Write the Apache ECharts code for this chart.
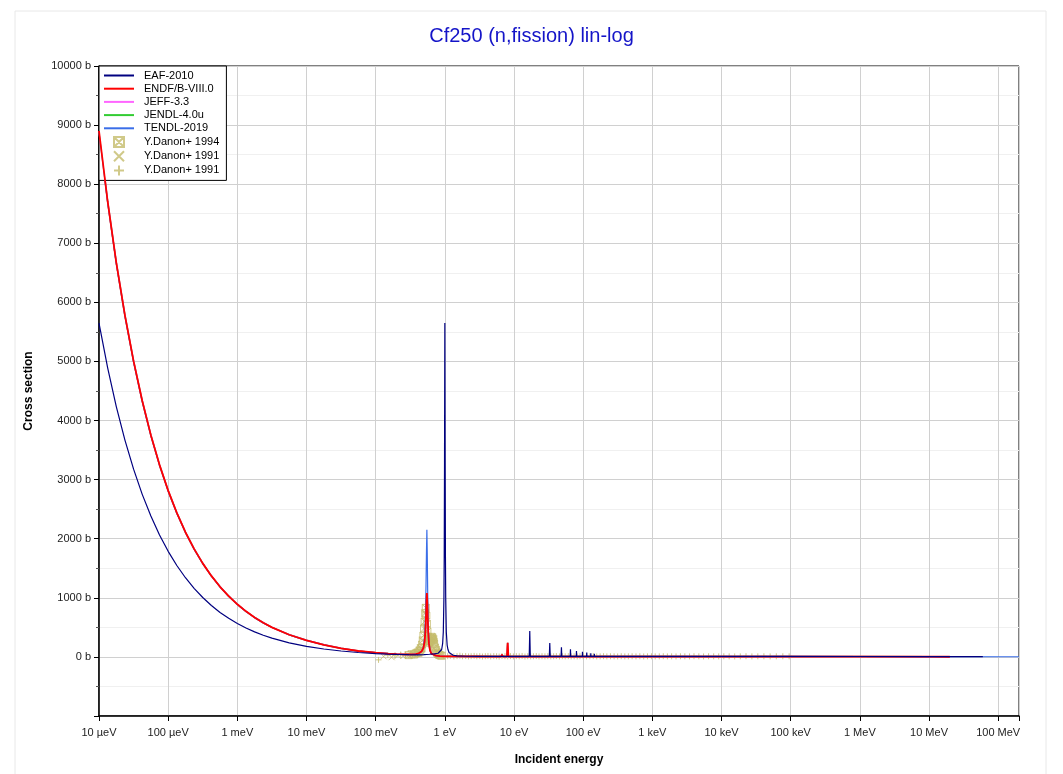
<!DOCTYPE html>
<html>
<head>
<meta charset="utf-8">
<script src="https://cdn.jsdelivr.net/npm/echarts/dist/echarts.min.js"></script>
<style>
  html, body { margin: 0; padding: 0; background: #fff; }
  #chart { width: 1063px; height: 774px; }
</style>
</head>
<body>
<div id="chart"></div>
<script>
// ---------- tick labels ----------
const xTickLabels = ['10 µeV','100 µeV','1 meV','10 meV','100 meV','1 eV','10 eV','100 eV','1 keV','10 keV','100 keV','1 MeV','10 MeV','100 MeV'];
const xTickExponents = [-5,-4,-3,-2,-1,0,1,2,3,4,5,6,7,8];

// ---------- series values (energy in eV, cross section in b) ----------
const eafE = [1e-5, 1.334e-5, 1.778e-5, 2.371e-5, 3.162e-5, 4.217e-5, 5.623e-5, 7.499e-5, 1e-4, 1.334e-4, 1.778e-4, 2.371e-4, 3.162e-4, 4.217e-4, 5.623e-4, 7.499e-4, 1e-3, 1.334e-3, 1.778e-3, 2.371e-3, 3.162e-3,
  5.623e-3, 0.01, 0.0178, 0.0316, 0.0562, 0.1,
  0.15, 0.2, 0.3, 0.4, 0.5, 0.6, 0.7, 0.8, 0.85, 0.9,
  0.93, 0.95, 0.97, 0.98, 0.99, 1.0, 1.01, 1.02, 1.03, 1.05,
  1.08, 1.11, 1.15, 1.22, 1.32, 1.5, 2, 3, 5, 10,
  16.6, 16.9, 17.2, 32.4, 32.9, 33.4, 47.9, 48.5, 49.1, 64.9, 65.5, 66.1, 79.4, 80, 80.6,
  97.1, 97.7, 98.3, 112, 112.7, 113.4, 128.4, 129, 129.6, 144.4, 145, 145.6,
  1e3, 1e4, 1e5, 1e6, 1e7, 6e7];
const eafS = [5650, 4893, 4237, 3669, 3177, 2751, 2383, 2063, 1787, 1547, 1340, 1160, 1005, 870, 753, 653, 565, 489, 424, 367, 318,
  238, 179, 134, 100, 75, 57,
  48, 43, 38, 36, 38, 45, 52, 62, 80, 125,
  230, 420, 1000, 1700, 3300, 5650, 3300, 1700, 1000, 420,
  200, 125, 75, 45, 28, 16, 11, 9, 8, 8,
  8, 440, 8, 8, 237, 8, 8, 164, 8, 8, 130, 8, 8, 100, 8,
  8, 85, 8, 8, 73, 8, 8, 62, 8, 8, 55, 8,
  8, 8, 8, 7, 6, 5];

const endfE = [1e-5, 1.334e-5, 1.778e-5, 2.371e-5, 3.162e-5, 4.217e-5, 5.623e-5, 7.499e-5, 1e-4, 1.334e-4, 1.778e-4, 2.371e-4, 3.162e-4, 4.217e-4, 5.623e-4, 7.499e-4, 1e-3, 1.334e-3, 1.778e-3, 2.371e-3, 3.162e-3,
  5.623e-3, 0.01, 0.0178, 0.0316, 0.0562, 0.1,
  0.15, 0.2, 0.27, 0.33, 0.38, 0.42, 0.46, 0.49, 0.51, 0.525, 0.535, 0.543, 0.55, 0.557, 0.565, 0.575, 0.59, 0.61, 0.64, 0.68, 0.75, 0.85, 1.0,
  1.5, 3, 5, 6.5, 6.7, 6.9, 7.9, 8.1, 8.3, 12, 30, 100, 1e3, 1e4, 1e5, 1e6, 1e7, 2e7];
const endfS = [8900, 7707, 6674, 5780, 5005, 4334, 3753, 3250, 2814, 2437, 2110, 1828, 1583, 1371, 1187, 1028, 890, 771, 667, 578, 500,
  375, 281, 205, 145, 100, 72,
  56, 48, 42, 42, 48, 60, 90, 150, 260, 450, 700, 950, 1080, 950, 680, 420, 220, 110, 55, 32, 20, 14, 10,
  8, 7, 6, 6, 40, 6, 6, 240, 6, 6, 6, 6, 6, 6, 6, 5, 4, 3];

// JEFF-3.3 and JENDL-4.0u coincide with ENDF/B-VIII.0 at this scale (hidden beneath it)
const jeffE = endfE, jeffS = endfS;
const jendlE = endfE, jendlS = endfS;

const tendlE = [1e-5, 1.334e-5, 1.778e-5, 2.371e-5, 3.162e-5, 4.217e-5, 5.623e-5, 7.499e-5, 1e-4, 1.334e-4, 1.778e-4, 2.371e-4, 3.162e-4, 4.217e-4, 5.623e-4, 7.499e-4, 1e-3, 1.334e-3, 1.778e-3, 2.371e-3, 3.162e-3,
  5.623e-3, 0.01, 0.0178, 0.0316, 0.0562, 0.1,
  0.15, 0.2, 0.27, 0.33, 0.38, 0.42, 0.46, 0.49, 0.51, 0.525, 0.535, 0.543, 0.55, 0.557, 0.565, 0.575, 0.59, 0.61, 0.64, 0.68, 0.75, 0.85, 1.0,
  1.5, 3, 10, 100, 1e3, 1e4, 1e5, 1e6, 1e7, 1e8, 2e8];
const tendlS = [8880, 7690, 6655, 5765, 4990, 4322, 3740, 3240, 2805, 2430, 2105, 1823, 1578, 1367, 1185, 1026, 888, 769, 665, 576, 499,
  374, 280, 204, 144, 99, 71,
  55, 47, 41, 41, 46, 58, 90, 170, 340, 700, 1250, 1800, 2150, 1750, 1100, 550, 250, 115, 55, 32, 20, 14, 10,
  8, 7, 6, 6, 6, 6, 6, 5, 4, 3, 3];

// Y.Danon+ 1994 (boxed x)
const d94E = [0.30, 0.33, 0.36, 0.38, 0.40, 0.415, 0.43, 0.44, 0.45, 0.46, 0.47, 0.48, 0.49, 0.50, 0.51,
  0.52, 0.53, 0.54, 0.55, 0.56, 0.57, 0.58, 0.59, 0.60, 0.61, 0.62, 0.63, 0.64, 0.65, 0.66,
  0.67, 0.68, 0.69, 0.70, 0.72, 0.74, 0.76, 0.78, 0.80, 0.83, 0.86, 0.90];
const d94S = [30, 45, 40, 60, 75, 70, 110, 95, 150, 140, 210, 280, 360, 480, 600,
  740, 830, 700, 560, 430, 340, 270, 240, 260, 290, 320, 300, 340, 310, 330,
  280, 300, 250, 220, 160, 120, 90, 65, 50, 35, 25, 20];

// Y.Danon+ 1991 (x)
const d91xE = [0.13, 0.17, 0.21, 0.25, 0.29, 0.35];
const d91xS = [10, -5, 25, 15, 35, 50];

// Y.Danon+ 1991 (+)
const d91pE = [0.11, 0.15, 0.19, 0.23, 0.27, 0.32, 0.37,
  1.1, 1.2, 1.35, 1.5, 1.65, 1.8, 2.0, 2.2, 2.4, 2.65,
  2.9, 3.2, 3.5, 3.85, 4.2, 4.6, 5.1, 5.6, 6.1, 6.7,
  7.4, 8.1, 8.9, 9.8, 10.8, 11.9, 13.1, 14.4, 15.8, 17.4,
  19.1, 21, 23, 25.4, 28, 30.8, 34, 37.4, 41, 45.5,
  50, 55, 61, 67, 74, 82, 90, 100, 112, 125,
  140, 157, 176, 197, 220, 248, 280, 315, 355, 400,
  450, 510, 580, 660, 750, 850, 970, 1100, 1260, 1440,
  1650, 1900, 2200, 2550, 2950, 3450, 4000, 4700, 5500, 6500,
  7700, 9100, 10800, 12900, 15500, 18700, 22600, 27500, 33500, 41000,
  50500, 62000, 77000, 95000];
const d91pS = [-50, 30, 20, 40, 35, 55, 70,
  12, 18, 9, 14, 20, 11, 15, 8, 13, 17,
  10, 14, 7, 12, 16, 9, 13, 11, 6, 15,
  12, 9, 14, 8, 13, 10, 16, 7, 12, 9,
  11, 14, 8, 12, 10, 13, 9, 11, 14, 8,
  12, 10, 13, 9, 11, 8, 12, 10, 9, 11,
  13, 8, 10, 12, 9, 11, 10, 8, 12, 9,
  10, 11, 9, 12, 8, 10, 11, 9, 10, 12,
  9, 10, 8, 11, 10, 9, 12, 10, 8, 11,
  10, 9, 11, 10, 8, 10, 12, 9, 10, 11,
  9, 10, 11, 10];

// ---------- build ----------
function pairs(E, S) { return E.map((e, i) => [Math.log10(e), S[i]]); }

const FONT = "'Liberation Sans', Arial, Helvetica, sans-serif";
const OLIVE = '#c4bc6c';

const boxX = 'path://M0,0 L10,0 L10,10 L0,10 Z M0,0 L10,10 M10,0 L0,10';
const crossX = 'path://M0,0 L10,10 M10,0 L0,10';
const plus = 'path://M5,0 L5,10 M0,5 L10,5';

function lineSeries(name, E, S, color, width, z) {
  return {
    name, type: 'line', data: pairs(E, S), symbol: 'none', showSymbol: false,
    lineStyle: { color, width }, itemStyle: { color }, z, clip: true, animation: false
  };
}
function scatterSeries(name, E, S, symbol, size) {
  return {
    name, type: 'scatter', data: pairs(E, S), symbol, symbolSize: size, symbolKeepAspect: true,
    itemStyle: { color: 'rgba(0,0,0,0)', borderColor: OLIVE, borderWidth: 1 },
    z: 1, clip: true, animation: false
  };
}
const hideSym = { opacity: 0 };

const chart = echarts.init(document.getElementById('chart'), null, { renderer: 'canvas' });
chart.setOption({
  animation: false,
  backgroundColor: '#ffffff',
  textStyle: { fontFamily: FONT },
  graphic: [{
    type: 'rect', silent: true, z: -1,
    shape: { x: 15, y: 11, width: 1031, height: 800 },
    style: { fill: 'none', stroke: '#e8e8e8', lineWidth: 1 }
  }],
  title: {
    text: 'Cf250 (n,fission) lin-log', left: 'center', top: 26, padding: 0,
    textStyle: { color: '#1414c8', fontSize: 20, fontWeight: 'normal', fontFamily: FONT }
  },
  grid: { left: 99, right: 44, top: 66, bottom: 58, show: true, borderColor: '#000', borderWidth: 1, backgroundColor: 'transparent' },
  legend: {
    orient: 'vertical', left: 99, top: 66,
    itemWidth: 30, itemHeight: 10, itemGap: 2.2,
    padding: [4, 4, 4, 4],
    backgroundColor: '#ffffff', borderColor: '#000', borderWidth: 1,
    textStyle: { fontSize: 11, lineHeight: 11, color: '#000', fontFamily: FONT, padding: [0, 0, 0, 5] },
    lineStyle: { width: 2 },
    data: [
      { name: 'EAF-2010', itemStyle: hideSym },
      { name: 'ENDF/B-VIII.0', itemStyle: hideSym },
      { name: 'JEFF-3.3', itemStyle: hideSym },
      { name: 'JENDL-4.0u', itemStyle: hideSym },
      { name: 'TENDL-2019', itemStyle: hideSym },
      'Y.Danon+ 1994', 'Y.Danon+ 1991', 'Y.Danon+ 1991 '
    ]
  },
  xAxis: {
    type: 'value', min: -5, max: Math.log10(2e8), interval: 1,
    name: 'Incident energy', nameLocation: 'middle', nameGap: 38,
    nameTextStyle: { fontSize: 12, fontWeight: 'bold', color: '#000', fontFamily: FONT },
    axisLine: { onZero: false, lineStyle: { color: '#000', width: 1.5 } },
    axisTick: { show: true, length: 5, lineStyle: { color: '#000' } },
    axisLabel: {
      fontSize: 11, color: '#222', margin: 11, fontFamily: FONT, showMaxLabel: true,
      formatter: v => { const i = xTickExponents.indexOf(Math.round(v * 1000) / 1000); return i >= 0 ? xTickLabels[i] : ''; }
    },
    splitLine: { show: true, lineStyle: { color: '#d0d0d0', width: 1 } }
  },
  yAxis: {
    type: 'value', min: -1000, max: 10000, interval: 1000,
    name: 'Cross section', nameLocation: 'middle', nameGap: 64, nameRotate: 90,
    nameTextStyle: { fontSize: 12, fontWeight: 'bold', color: '#000', fontFamily: FONT },
    axisLine: { onZero: false, lineStyle: { color: '#000', width: 1.5 } },
    axisTick: { show: true, length: 5, lineStyle: { color: '#000' } },
    minorTick: { show: true, splitNumber: 2, length: 3, lineStyle: { color: '#555' } },
    axisLabel: { fontSize: 11, color: '#222', margin: 8, fontFamily: FONT, formatter: v => v < 0 ? '' : v + ' b' },
    splitLine: { show: true, lineStyle: { color: '#d0d0d0', width: 1 } },
    minorSplitLine: { show: true, lineStyle: { color: '#f0f0f0', width: 1 } }
  },
  series: [
    scatterSeries('Y.Danon+ 1994', d94E, d94S, boxX, 7),
    scatterSeries('Y.Danon+ 1991', d91xE, d91xS, crossX, 6),
    scatterSeries('Y.Danon+ 1991 ', d91pE, d91pS, plus, 6),
    lineSeries('JENDL-4.0u', jendlE, jendlS, '#33cc33', 1.5, 2),
    lineSeries('JEFF-3.3', jeffE, jeffS, '#ff66ff', 1.5, 3),
    lineSeries('TENDL-2019', tendlE, tendlS, '#3a6ee8', 1.2, 4),
    lineSeries('ENDF/B-VIII.0', endfE, endfS, '#ff0000', 1.8, 5),
    lineSeries('EAF-2010', eafE, eafS, '#000080', 1.2, 6)
  ]
});
</script>
</body>
</html>
